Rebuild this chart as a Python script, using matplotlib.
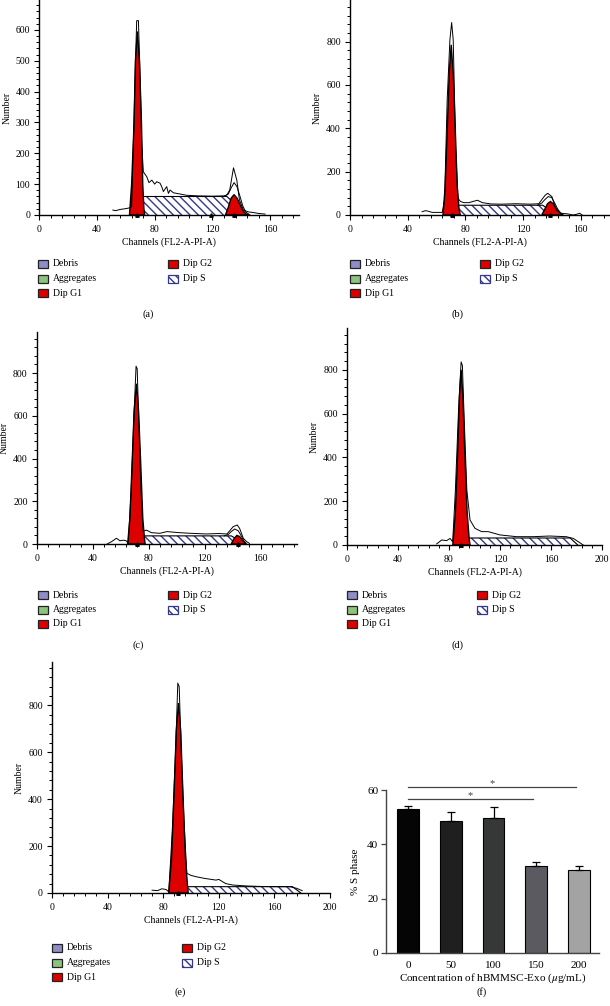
import matplotlib
matplotlib.use('Agg')
import matplotlib.pyplot as plt
from matplotlib.patches import Rectangle
from matplotlib.ticker import MultipleLocator

plt.rcParams['font.family'] = ['Liberation Serif', 'DejaVu Serif']
plt.rcParams['mathtext.fontset'] = 'stix'
plt.rcParams['hatch.linewidth'] = 1.0

#=======================
# Data (channel, count)
#=======================

# panel (a)
a_raw_x = [51, 53, 56, 59, 61.5, 63, 64, 65.2, 66.4, 67.5, 68.7, 69.8, 71, 72.1, 74.5, 76, 78, 80, 81.4,
           83.7, 85, 86, 88.3, 89.5, 90.6, 93, 97.6, 102, 110, 120, 128, 130, 132, 134.6, 136.9, 138.7,
           141.5, 145, 148.4, 152, 156.5]
a_raw_y = [16, 14, 18, 20, 22, 24, 27, 232, 449, 630, 630, 459, 232, 140, 124, 105, 113, 100, 108,
           103, 90, 76, 92, 70, 81, 72, 68, 64, 62, 61, 62, 65, 81, 153, 113, 49,
           16, 10, 8, 5, 3]
a_g1_x = [62.5, 64, 65.7, 66.6, 68, 69.4, 70.8, 71.7, 72.5, 73]
a_g1_y = [0, 100, 300, 500, 595, 500, 300, 100, 20, 0]
a_s_x = [63, 71.5, 130, 144]
a_s_y = [0, 60, 60, 0]
a_g2_x = [129, 131, 133, 135, 137, 139, 141, 143, 145]
a_g2_y = [0, 25, 55, 66, 55, 35, 15, 4, 0]
a_fit_x = [128, 131, 133, 135, 137, 139, 141, 143, 146]
a_fit_y = [60, 68, 88, 105, 92, 62, 30, 10, 0]
a_marks = [68, 119, 135]

# panel (b)
b_raw_x = [50, 52.3, 54, 57, 60, 64, 65.6, 67.4, 69.3, 70.5, 71.6, 73.3, 74.9, 76.7, 79, 82.6, 85, 88.4,
           91.9, 97.7, 105, 115, 125, 131, 133.7, 135.5, 137.2, 140, 143, 146.5, 151, 154.7, 157, 159.3, 161]
b_raw_y = [15, 20, 18, 12, 12, 12, 69, 530, 808, 888, 808, 300, 77, 62, 57, 57, 62, 68,
           57, 51, 50, 52, 50, 52, 77, 92, 100, 85, 23, 8, 5, 0, 3, 8, 0]
b_g1_x = [64.5, 66, 67.5, 68.8, 70.2, 71.6, 73, 74.4, 75.6, 76.5]
b_g1_y = [0, 130, 400, 650, 785, 650, 400, 130, 30, 0]
b_s_x = [68.6, 74.4, 133.7, 143]
b_s_y = [0, 45, 45, 0]
b_g2_x = [133, 135, 137, 139, 141, 143, 145, 147.5]
b_g2_y = [0, 25, 52, 62, 52, 30, 12, 0]
b_fit_x = [130, 133, 135, 137.5, 140, 142, 144, 146, 148]
b_fit_y = [45, 55, 70, 85, 80, 55, 28, 10, 0]
b_marks = [70.5, 139]

# panel (c)
c_raw_x = [50.3, 53.5, 57, 59.5, 62, 64, 65.4, 67.5, 69.5, 71, 71.8, 73, 74.5, 76, 78.5, 82, 88, 93,
           102, 110, 121, 130, 136, 140.4, 143.3, 145, 147.6, 150, 152]
c_raw_y = [0, 11, 27, 15, 18, 15, 3, 250, 600, 832, 820, 560, 250, 60, 65, 53, 50, 58,
           53, 50, 47, 49, 47, 81, 89, 73, 27, 11, 3]
c_g1_x = [65, 66.6, 68.2, 69.6, 71.3, 72.8, 74.3, 75.8, 77, 77.5]
c_g1_y = [0, 120, 380, 620, 750, 620, 380, 120, 25, 0]
c_s_x = [70, 74, 139, 149]
c_s_y = [0, 38, 38, 0]
c_g2_x = [139, 141, 143, 145, 147, 149.5]
c_g2_y = [0, 25, 40, 35, 18, 0]
c_fit_x = [134, 137, 139, 141.5, 144, 146, 148, 150]
c_fit_y = [38, 45, 58, 70, 62, 40, 15, 0]
c_marks = [71.8, 143.8]

# panel (d)
d_raw_x = [70.3, 74.3, 78.2, 80.8, 82.9, 85, 87.5, 89.5, 90.5, 92, 94, 96.5, 100.4, 105.6, 110.8,
           120, 133, 146, 159, 172, 177.5, 182.7, 185.3]
d_raw_y = [5, 23, 20, 30, 15, 250, 620, 836, 820, 560, 250, 114, 76, 61, 61,
           46, 38, 38, 41, 38, 30, 10, 0]
d_g1_x = [83, 85, 86.8, 88.2, 89.5, 90.9, 92.4, 94.2, 95.8, 96.5]
d_g1_y = [0, 150, 420, 680, 800, 680, 420, 150, 30, 0]
d_s_x = [89, 95, 175, 181]
d_s_y = [0, 32, 32, 0]
d_marks = [89.5]

# panel (e)
e_raw_x = [72, 76, 79, 82, 84, 86.5, 89, 90.5, 91.5, 93, 95, 97, 100, 104, 110, 118, 120, 125, 130,
           140, 150, 160, 171, 176, 180]
e_raw_y = [12, 10, 18, 15, 5, 260, 620, 895, 880, 600, 300, 84, 75, 69, 62, 55, 58, 40, 34,
           30, 28, 27, 27, 20, 10]
e_g1_x = [84, 86, 87.8, 89.4, 91, 92.6, 94.2, 96, 97.5, 98]
e_g1_y = [0, 150, 420, 690, 810, 690, 420, 150, 30, 0]
e_s_x = [89.5, 94.5, 173, 179]
e_s_y = [0, 27, 27, 0]
e_marks = [91]

# panel (f)
conc = ['0', '50', '100', '150', '200']
s_phase = [53.1, 48.7, 49.6, 32.1, 30.4]
s_err = [0.9, 3.1, 4.0, 1.3, 1.5]
bar_colors = ['#050505', '#1f1f1f', '#363838', '#5a5a60', '#a3a3a3']

legend_labels = ['Debris', 'Aggregates', 'Dip G1', 'Dip G2', 'Dip S']

#=======================
# Layout helpers (pixel boxes)
#=======================
W, H = 610, 1006
RED = '#dc0000'
NAVY = '#34388c'
FS = 7

fig = plt.figure(figsize=(W / 100, H / 100), dpi=100)


def px_axes(x0, y0, x1, y1):
    return fig.add_axes([x0 / W, 1 - y1 / H, (x1 - x0) / W, (y1 - y0) / H])


def draw_legend(x, y):
    colors = ['#8f8cc6', '#8dc47d', RED, RED, 'white']
    pos = [(x, y), (x, y + 14.5), (x, y + 29), (x + 130, y), (x + 130, y + 14.5)]
    for (lx, ly), lab, col in zip(pos, legend_labels, colors):
        hatch = '\\\\\\\\' if lab == 'Dip S' else None
        ec = NAVY if lab == 'Dip S' else '#222222'
        fig.add_artist(Rectangle((lx / W, 1 - (ly + 4) / H), 10 / W, 8 / H, transform=fig.transFigure,
                                 facecolor=col, edgecolor=ec, hatch=hatch, lw=0.9))
        fig.text((lx + 15) / W, 1 - ly / H, lab, ha='left', va='center', fontsize=FS)


def hist_panel(box, xmax, ytop, ystep, raw, g1, s, g2, fit, marks):
    ax = px_axes(*box)
    ax.fill(s[0], s[1], facecolor='white', edgecolor=NAVY, hatch='\\\\\\\\', lw=0, zorder=1)
    ax.plot(s[0], s[1], color='k', lw=0.8, zorder=1.5)
    ax.fill(g1[0], g1[1], facecolor=RED, edgecolor='k', lw=1.0, zorder=2)
    if g2 is not None:
        ax.fill(g2[0], g2[1], facecolor=RED, edgecolor='k', lw=1.0, zorder=2)
    ax.plot(raw[0], raw[1], color='k', lw=0.7, zorder=3)
    if fit is not None:
        ax.plot(fit[0], fit[1], color='k', lw=0.7, zorder=3)
    ax.plot(marks, [0] * len(marks), ls='none', marker='^', ms=2.5, color='k', clip_on=False, zorder=4)
    ax.set_xlim(0, xmax)
    ax.set_ylim(0, ytop)
    ax.xaxis.set_major_locator(MultipleLocator(40))
    ax.xaxis.set_minor_locator(MultipleLocator(8))
    ax.yaxis.set_major_locator(MultipleLocator(ystep))
    ax.yaxis.set_minor_locator(MultipleLocator(ystep / 5))
    for sp in ['top', 'right']:
        ax.spines[sp].set_visible(False)
    for sp in ['left', 'bottom']:
        ax.spines[sp].set_linewidth(1.0)
    ax.tick_params(which='major', length=3.5, width=0.8, labelsize=FS, pad=3)
    ax.tick_params(axis='x', which='major', pad=4)
    ax.tick_params(which='minor', length=2, width=0.7)
    ax.set_xlabel('Channels (FL2-A-PI-A)', fontsize=FS, labelpad=2)
    ax.set_ylabel('Number', fontsize=FS, labelpad=3)
    return ax


#=======================
# Histograms
#=======================
hist_panel((39.3, 0, 299, 215), 180, 697, 100,
           (a_raw_x, a_raw_y), (a_g1_x, a_g1_y), (a_s_x, a_s_y), (a_g2_x, a_g2_y), (a_fit_x, a_fit_y), a_marks)
hist_panel((350, 0, 609.5, 215), 180, 992, 200,
           (b_raw_x, b_raw_y), (b_g1_x, b_g1_y), (b_s_x, b_s_y), (b_g2_x, b_g2_y), (b_fit_x, b_fit_y), b_marks)
hist_panel((36.7, 332, 297, 544), 186, 992, 200,
           (c_raw_x, c_raw_y), (c_g1_x, c_g1_y), (c_s_x, c_s_y), (c_g2_x, c_g2_y), (c_fit_x, c_fit_y), c_marks)
hist_panel((347, 328, 602, 545), 200, 991, 200,
           (d_raw_x, d_raw_y), (d_g1_x, d_g1_y), (d_s_x, d_s_y), None, None, d_marks)
hist_panel((52, 662, 330, 893), 200, 985, 200,
           (e_raw_x, e_raw_y), (e_g1_x, e_g1_y), (e_s_x, e_s_y), None, None, e_marks)

draw_legend(38, 264)
draw_legend(350, 264)
draw_legend(38, 595)
draw_legend(347, 595)
draw_legend(52, 948)

#=======================
# Bar chart (f)
#=======================
axf = px_axes(386, 790, 599, 953)
xs = range(len(conc))
axf.bar(xs, s_phase, width=0.51, color=bar_colors, edgecolor='k', lw=0.8, zorder=2)
axf.errorbar(xs, s_phase, yerr=[[0] * len(s_err), s_err], fmt='none', ecolor='k',
             elinewidth=0.9, capsize=3, capthick=0.9, zorder=3)
axf.set_xlim(-0.52, 4.47)
axf.set_ylim(0, 60)
axf.set_xticks(list(xs))
axf.set_xticklabels(conc)
axf.yaxis.set_major_locator(MultipleLocator(20))
for sp in ['top', 'right']:
    axf.spines[sp].set_visible(False)
for sp in ['left', 'bottom']:
    axf.spines[sp].set_color('#444444')
    axf.spines[sp].set_linewidth(1.0)
axf.tick_params(axis='y', length=3.5, width=0.9, color='#444444', labelsize=8, pad=2)
axf.tick_params(axis='x', length=0, labelsize=8, pad=6)
axf.set_ylabel('% S phase', fontsize=8, labelpad=5)
axf.set_xlabel(r'Concentration of hBMMSC-Exo ($\mu$g/mL)', fontsize=8, labelpad=1)

# significance brackets
axf.plot([0, 3.92], [61.1, 61.1], color='#444444', lw=0.9, clip_on=False)
axf.text(1.96, 62.2, '*', ha='center', va='center', fontsize=7.5, color='#444444')
axf.plot([0, 2.93], [56.7, 56.7], color='#444444', lw=0.9, clip_on=False)
axf.text(1.46, 57.8, '*', ha='center', va='center', fontsize=7.5, color='#444444')

#=======================
# Panel captions
#=======================
for lab, cx, cy in [('(a)', 148, 314), ('(b)', 458, 314), ('(c)', 138, 645),
                    ('(d)', 457, 645), ('(e)', 180, 992), ('(f)', 482, 992)]:
    fig.text(cx / W, 1 - cy / H, lab, ha='center', va='center', fontsize=7.5)

fig.savefig('out.png', dpi=100)
